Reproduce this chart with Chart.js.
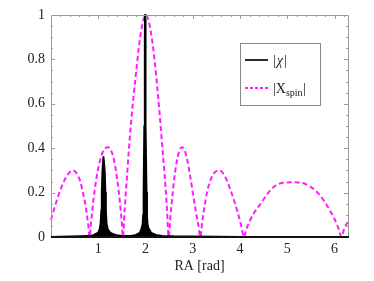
<!DOCTYPE html>
<html lang="en">
<head>
  <meta charset="UTF-8" />
  <title>RA chart</title>
  <script src="https://cdn.jsdelivr.net/npm/chart.js"></script>
  <style>
    html, body { margin: 0; padding: 0; background: #fff; }
    #wrap { width: 374px; height: 281px; }
  </style>
</head>
<body>
  <div id="wrap"><canvas id="raChart" width="374" height="281"></canvas></div>

  <script>
    // |chi| : two sharp peaks sitting on a thin black base
    const chiX = [0, 0.4, 0.8, 0.9, 1.0, 1.03, 1.05, 1.065, 1.075, 1.09, 1.11, 1.12, 1.135, 1.15, 1.16, 1.175, 1.2, 1.25, 1.32, 1.39, 1.5,
                  1.7, 1.8, 1.88, 1.92, 1.94, 1.95, 1.96, 1.975, 1.985, 1.99, 1.995, 2.005, 2.02, 2.03, 2.04, 2.06, 2.12, 2.22, 2.35,
                  2.6, 3.0, 4.0, 6.2832];
    const chiY = [0, 0.002, 0.004, 0.008, 0.02, 0.035, 0.06, 0.12, 0.2, 0.3, 0.36, 0.36, 0.3, 0.2, 0.12, 0.06, 0.035, 0.02, 0.012, 0.008, 0.005,
                  0.005, 0.009, 0.018, 0.04, 0.06, 0.1, 0.2, 0.5, 0.9, 1.0, 0.9, 0.5, 0.2, 0.1, 0.06, 0.04, 0.018, 0.009, 0.005,
                  0.003, 0.002, 0, 0];

    // |X_spin| : dashed magenta lobes
    const spinX = [0, 0.05, 0.1, 0.15, 0.2, 0.25, 0.3, 0.35, 0.4, 0.45, 0.5, 0.56, 0.62, 0.67, 0.72, 0.76, 0.79, 0.815,
                   0.85, 0.9, 0.95, 1.0, 1.05, 1.1, 1.16, 1.21, 1.27, 1.33, 1.38, 1.43, 1.47, 1.5, 1.52,
                   1.56, 1.6, 1.65, 1.7, 1.75, 1.8, 1.85, 1.9, 1.95, 2.0, 2.05, 2.1, 2.15, 2.2, 2.25, 2.3, 2.35, 2.4, 2.45, 2.49,
                   2.53, 2.58, 2.63, 2.68, 2.73, 2.77, 2.82, 2.88, 2.94, 3.0, 3.06, 3.12, 3.16,
                   3.2, 3.25, 3.3, 3.38, 3.46, 3.55, 3.63, 3.72, 3.8, 3.88, 3.95, 4.02, 4.08,
                   4.14, 4.2, 4.3, 4.4, 4.5, 4.6, 4.7, 4.8, 4.9, 5.0, 5.1, 5.2, 5.3, 5.4, 5.5, 5.6, 5.7, 5.8, 5.9, 6.0, 6.08, 6.15,
                   6.2, 6.2832];
    const spinY = [0.077, 0.115, 0.15, 0.183, 0.213, 0.24, 0.262, 0.28, 0.293, 0.3, 0.297, 0.28, 0.25, 0.205, 0.155, 0.1, 0.05, 0,
                   0.07, 0.17, 0.25, 0.31, 0.355, 0.385, 0.402, 0.404, 0.39, 0.35, 0.29, 0.21, 0.13, 0.06, 0,
                   0.13, 0.25, 0.4, 0.53, 0.64, 0.74, 0.84, 0.92, 0.975, 1.0, 0.985, 0.94, 0.87, 0.78, 0.67, 0.55, 0.42, 0.29, 0.14, 0,
                   0.1, 0.21, 0.3, 0.36, 0.395, 0.404, 0.395, 0.35, 0.28, 0.2, 0.12, 0.05, 0,
                   0.07, 0.14, 0.2, 0.26, 0.29, 0.3, 0.29, 0.255, 0.21, 0.16, 0.11, 0.055, 0,
                   0.04, 0.07, 0.11, 0.14, 0.17, 0.2, 0.223, 0.237, 0.244, 0.246, 0.247, 0.246, 0.244, 0.237, 0.225, 0.208, 0.185, 0.155, 0.12, 0.08, 0.04, 0,
                   0.035, 0.07];

    const xTicks = [1, 2, 3, 4, 5, 6];
    const yTicks = [0, 0.2, 0.4, 0.6, 0.8, 1];

    const serif = '"Liberation Serif", "DejaVu Serif", serif';
    const magenta = '#ff1cff';

    function zip(xs, ys) {
      return xs.map((x, i) => ({ x: x, y: ys[i] }));
    }

    // frame with inward ticks, plus the boxed legend
    const framePlugin = {
      id: 'frame',
      afterDraw(chart) {
        const ctx = chart.ctx;
        const a = chart.chartArea;
        const xs = chart.scales.x, ys = chart.scales.y;
        ctx.save();
        ctx.strokeStyle = '#9a9a9a';
        ctx.lineWidth = 1;
        ctx.beginPath();
        ctx.moveTo(a.left + 0.5, a.bottom);
        ctx.lineTo(a.left + 0.5, a.top + 0.5);
        ctx.lineTo(a.right + 0.5, a.top + 0.5);
        ctx.lineTo(a.right + 0.5, a.bottom);
        ctx.stroke();

        // x ticks on top edge
        ctx.beginPath();
        for (let v = 0.2; v < 6.28; v += 0.2) {
          const px = Math.round(xs.getPixelForValue(v)) + 0.5;
          const major = Math.abs(v - Math.round(v)) < 0.01;
          ctx.moveTo(px, a.top);
          ctx.lineTo(px, a.top + (major ? 4 : 2));
        }
        // y ticks on left and right edges
        for (let v = 0.05; v < 1; v += 0.05) {
          const py = Math.round(ys.getPixelForValue(v)) + 0.5;
          const major = Math.abs(v * 5 - Math.round(v * 5)) < 0.01;
          const len = major ? 4 : 2;
          ctx.moveTo(a.left, py);
          ctx.lineTo(a.left + len, py);
          ctx.moveTo(a.right, py);
          ctx.lineTo(a.right - len, py);
        }
        ctx.stroke();

        // bottom axis
        ctx.strokeStyle = '#111';
        ctx.lineWidth = 2;
        ctx.beginPath();
        ctx.moveTo(a.left, a.bottom);
        ctx.lineTo(a.right + 1, a.bottom);
        ctx.stroke();

        // legend
        const lx = 240, ly = 43, lw = 80, lh = 62;
        ctx.fillStyle = '#fff';
        ctx.fillRect(lx, ly, lw, lh);
        ctx.strokeStyle = '#8a8a8a';
        ctx.lineWidth = 1;
        ctx.strokeRect(lx + 0.5, ly + 0.5, lw, lh);

        ctx.strokeStyle = '#111';
        ctx.lineWidth = 1.8;
        ctx.beginPath();
        ctx.moveTo(245, 60);
        ctx.lineTo(268, 60);
        ctx.stroke();

        ctx.strokeStyle = magenta;
        ctx.setLineDash([3, 2]);
        ctx.beginPath();
        ctx.moveTo(245, 88);
        ctx.lineTo(268, 88);
        ctx.stroke();
        ctx.setLineDash([]);

        ctx.fillStyle = '#222';
        ctx.textBaseline = 'alphabetic';
        ctx.font = '14px ' + serif;
        let tx = 273;
        ctx.fillText('|', tx, 65);
        tx += ctx.measureText('|').width + 1;
        ctx.font = 'italic 14px ' + serif;
        ctx.fillText('χ', tx, 65);
        tx += ctx.measureText('χ').width + 1;
        ctx.font = '14px ' + serif;
        ctx.fillText('|', tx, 65);

        tx = 273;
        ctx.fillText('|X', tx, 93);
        tx += ctx.measureText('|X').width;
        ctx.font = '10px ' + serif;
        ctx.fillText('spin', tx, 96);
        tx += ctx.measureText('spin').width + 0.5;
        ctx.font = '14px ' + serif;
        ctx.fillText('|', tx, 93);
        ctx.restore();
      }
    };

    new Chart(document.getElementById('raChart'), {
      type: 'line',
      data: {
        datasets: [
          {
            label: '|χ|',
            data: zip(chiX, chiY),
            borderColor: '#000',
            backgroundColor: '#000',
            borderWidth: 2,
            borderJoinStyle: 'round',
            fill: 'start',
            pointRadius: 0,
            tension: 0
          },
          {
            label: '|X_spin|',
            data: zip(spinX, spinY),
            borderColor: magenta,
            borderWidth: 2,
            borderDash: [5, 3],
            fill: false,
            pointRadius: 0,
            cubicInterpolationMode: 'monotone'
          }
        ]
      },
      plugins: [framePlugin],
      options: {
        responsive: false,
        animation: false,
        clip: false,
        layout: { padding: { top: 15, right: 26, left: 0, bottom: 0 } },
        plugins: { legend: { display: false }, tooltip: { enabled: false } },
        scales: {
          x: {
            type: 'linear',
            min: 0,
            max: 2 * Math.PI,
            grid: { display: false, drawTicks: false },
            border: { display: false },
            afterBuildTicks: (axis) => { axis.ticks = xTicks.map(v => ({ value: v })); },
            afterFit: (axis) => { axis.height = 44; },
            ticks: {
              color: '#222',
              padding: 4,
              maxRotation: 0,
              font: { family: serif, size: 14 },
              callback: (v) => String(v)
            },
            title: {
              display: true,
              text: 'RA [rad]',
              color: '#222',
              font: { family: serif, size: 14 },
              padding: { top: 0, bottom: 6 }
            }
          },
          y: {
            min: 0,
            max: 1,
            grid: { display: false, drawTicks: false },
            border: { display: false },
            afterBuildTicks: (axis) => { axis.ticks = yTicks.map(v => ({ value: v })); },
            afterFit: (axis) => { axis.width = 51; },
            ticks: {
              color: '#222',
              padding: 6,
              font: { family: serif, size: 14 },
              callback: (v) => String(Math.round(v * 10) / 10)
            }
          }
        }
      }
    });
  </script>
</body>
</html>
